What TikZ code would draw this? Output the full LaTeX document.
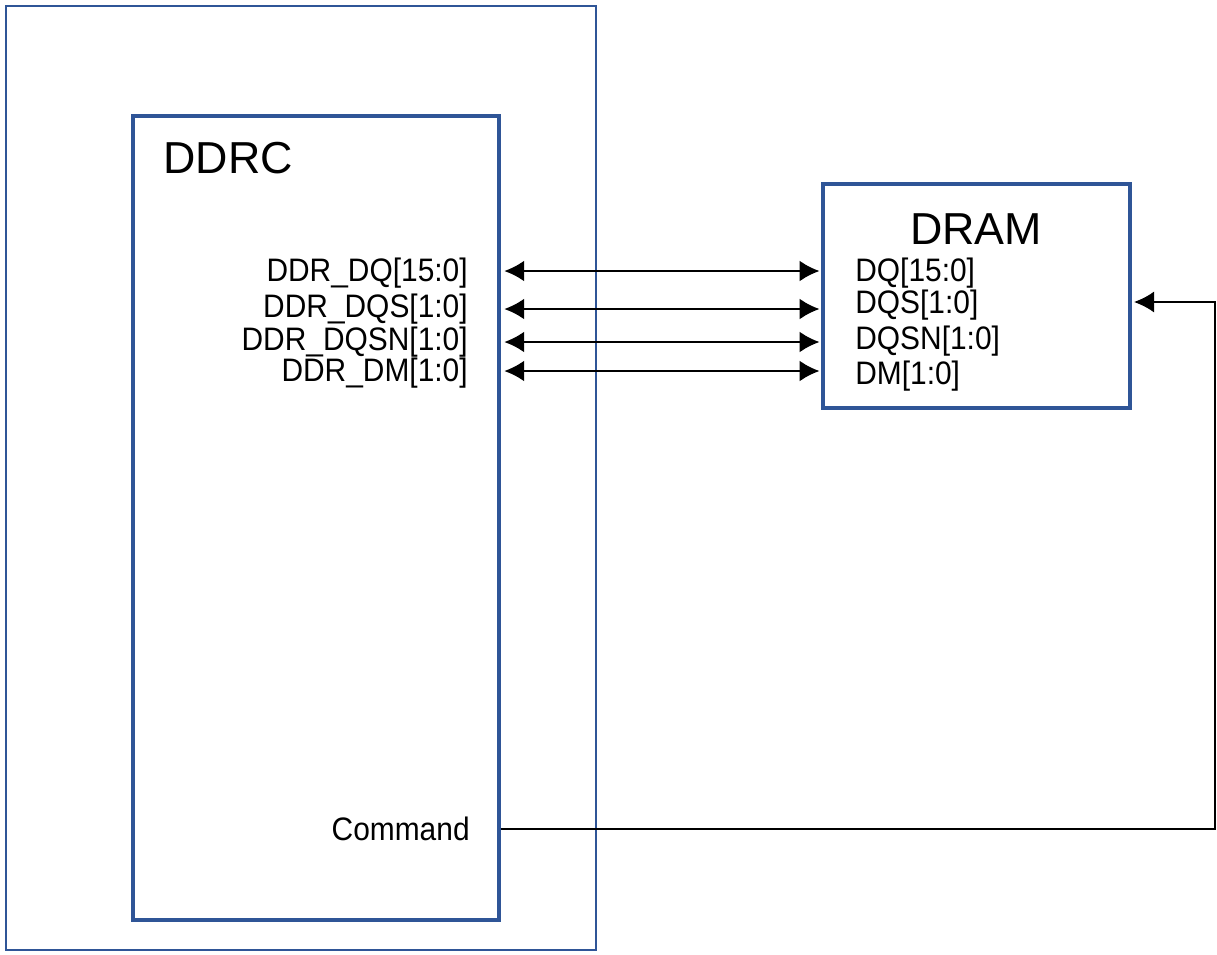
\documentclass[tikz,border=0pt]{standalone}
\usepackage{fontspec}
\setmainfont{Liberation Sans}
\newfontfamily\pinfont[FakeStretch=0.92]{Liberation Sans}
\usetikzlibrary{arrows.meta}
\definecolor{blkblue}{HTML}{2F5597}

\begin{document}
\begin{tikzpicture}[
    x=0.02cm, y=-0.02cm,
    blk/.style={draw=blkblue, line width=2pt, inner sep=0pt},
    pin/.style={font=\pinfont\fontsize{18.5}{20}\selectfont, text=black, inner sep=0pt},
    ttl/.style={font=\fontsize{25.5}{28}\selectfont, text=black, inner sep=0pt},
    bus/.style={draw=black, line width=1.3pt, {Latex[length=4mm,width=4.2mm]}-{Latex[length=4mm,width=4.2mm]}},
    sig/.style={draw=black, line width=1pt},
  ]
  \useasboundingbox (0,0) rectangle (1217,954);

  % ---- outer frame and the two blocks
  \node[blk, line width=1.5pt, minimum width=11.8cm, minimum height=18.88cm] (chip) at (301,478) {};
  \node[blk, minimum width=7.32cm, minimum height=16.08cm] (ddrc) at (316,518) {};
  \node[blk, minimum width=6.14cm, minimum height=4.48cm] (dram) at (976.5,296) {};
  \node[ttl, anchor=west] (ddrcname) at (163,158) {DDRC};
  \node[ttl] (dramname) at (976,229) {DRAM};

  % ---- controller side pins
  \node[pin, anchor=east] (cdq)   at (468,273) {DDR\_DQ[15:0]};
  \node[pin, anchor=east] (cdqs)  at (468,309) {DDR\_DQS[1:0]};
  \node[pin, anchor=east] (cdqsn) at (468,342) {DDR\_DQSN[1:0]};
  \node[pin, anchor=east] (cdm)   at (468,373) {DDR\_DM[1:0]};
  \node[pin, anchor=east] (cmd)   at (470,829) {Command};

  % ---- memory side pins
  \node[pin, anchor=west] (mdq)   at (855,273) {DQ[15:0]};
  \node[pin, anchor=west] (mdqs)  at (855,305) {DQS[1:0]};
  \node[pin, anchor=west] (mdqsn) at (855,341) {DQSN[1:0]};
  \node[pin, anchor=west] (mdm)   at (855,376) {DM[1:0]};

  % ---- data buses
  \draw[bus] ([xshift=2pt]ddrc.east |- 0,271) -- ([xshift=-1pt]dram.west |- 0,271);
  \draw[bus] ([xshift=2pt]ddrc.east |- 0,309) -- ([xshift=-1pt]dram.west |- 0,309);
  \draw[bus] ([xshift=2pt]ddrc.east |- 0,342) -- ([xshift=-1pt]dram.west |- 0,342);
  \draw[bus] ([xshift=2pt]ddrc.east |- 0,371) -- ([xshift=-1pt]dram.west |- 0,371);

  % ---- command path
  \coordinate (cmdturn) at (1215,829);
  \coordinate (dramin) at (1134,302);
  \draw[sig, -{Latex[length=4mm,width=4.2mm]}] (ddrc.east |- cmd) -- (cmdturn) |- (dramin);
\end{tikzpicture}
\end{document}
